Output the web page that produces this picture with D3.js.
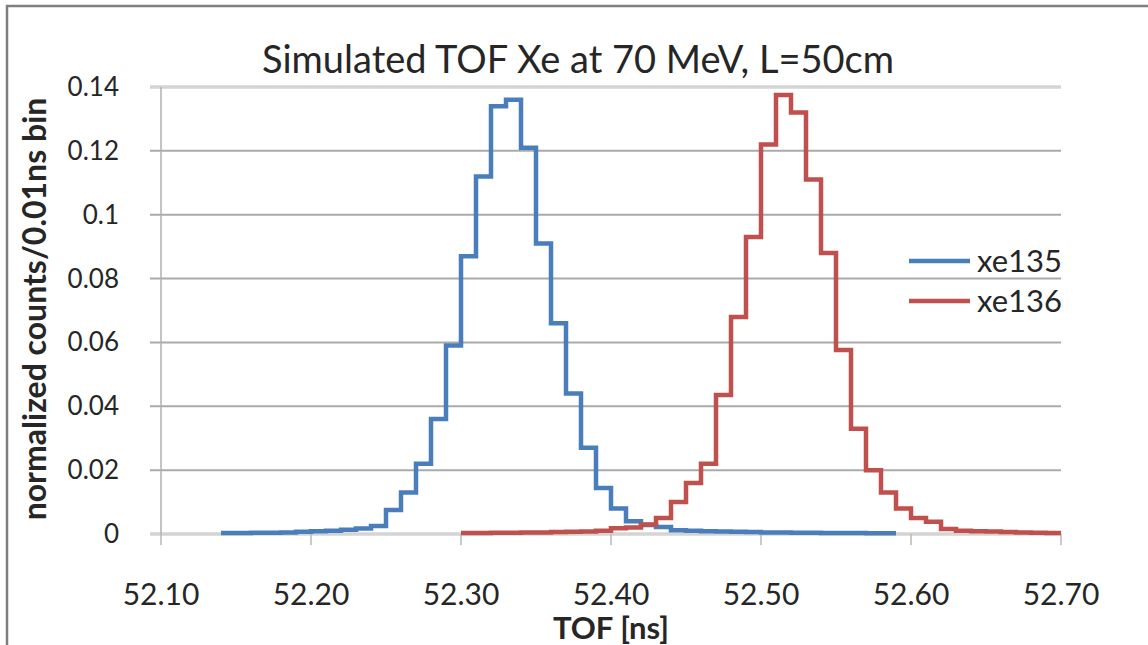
<!DOCTYPE html>
<html><head><meta charset="utf-8">
<script src="https://cdn.jsdelivr.net/npm/d3@7"></script>
<style>
html,body{margin:0;padding:0;background:#fff;}
svg text{font-family:Lato,"Open Sans",sans-serif;fill:#262626;}
</style></head>
<body>
<svg id="chart" width="1148" height="645"></svg>
<script>
const title = "Simulated TOF Xe at 70 MeV, L=50cm";
const xLabel = "TOF [ns]";
const yLabel = "normalized counts/0.01ns bin";
const xTicks = [52.10, 52.20, 52.30, 52.40, 52.50, 52.60, 52.70];
const xTickLabels = ["52.10","52.20","52.30","52.40","52.50","52.60","52.70"];
const yTicks = [0, 0.02, 0.04, 0.06, 0.08, 0.10, 0.12, 0.14];
const yTickLabels = ["0","0.02","0.04","0.06","0.08","0.1","0.12","0.14"];
const seriesNames = ["xe135", "xe136"];
const binWidth = 0.01;

// xe135: bins starting at 52.14
const xe135Start = 52.14;
const xe135 = [0.0003,0.0003,0.0004,0.0004,0.0005,0.0007,0.0009,0.001,0.0013,0.0017,
  0.0025,0.0075,0.013,0.022,0.036,0.059,0.087,0.112,0.134,0.136,
  0.121,0.091,0.066,0.044,0.027,0.0144,0.008,0.004,0.0028,0.0022,
  0.0012,0.001,0.0009,0.0008,0.0007,0.0006,0.0005,0.0005,0.0004,0.0004,
  0.0003,0.0003,0.0003,0.0002,0.0002];
// xe136: bins starting at 52.30
const xe136Start = 52.30;
const xe136 = [0.0003,0.0003,0.0004,0.0004,0.0005,0.0005,0.0006,0.0007,0.0008,0.001,
  0.0018,0.002,0.003,0.005,0.010,0.016,0.022,0.0435,0.068,0.093,
  0.122,0.1375,0.132,0.111,0.088,0.0576,0.033,0.020,0.013,0.008,
  0.005,0.0038,0.0016,0.001,0.0009,0.0008,0.0006,0.0005,0.0004,0.0003];

const colors = ["#4A7EBB", "#C0504D"];

const svg = d3.select("#chart");
const x = d3.scaleLinear().domain([52.10, 52.70]).range([161, 1061]);
const y = d3.scaleLinear().domain([0, 0.14]).range([534, 87]);

// outer border
svg.append("path").attr("d","M7,700 L7,6 L1160,6").attr("fill","none")
  .attr("stroke","#7f7f7f").attr("stroke-width",2.5);

// gridlines
svg.append("g").selectAll("line").data(yTicks).join("line")
  .attr("x1", 150).attr("x2", 1061)
  .attr("y1", d => y(d)).attr("y2", d => y(d))
  .attr("stroke", (d,i) => (i===0 || i===yTicks.length-1) ? "#d4d4d4" : "#aaaaaa")
  .attr("stroke-width", (d,i) => (i===0 || i===yTicks.length-1) ? 3.5 : 2);

// y axis line
svg.append("line").attr("x1",161).attr("x2",161).attr("y1",y(0.14)).attr("y2",y(0))
  .attr("stroke","#b0b0b0").attr("stroke-width",1.5);

// x ticks
svg.append("g").selectAll("line").data(xTicks).join("line")
  .attr("x1", d => x(d)).attr("x2", d => x(d))
  .attr("y1", y(0)).attr("y2", y(0)+11)
  .attr("stroke","#b8b8b8").attr("stroke-width",1.5);

// y tick labels
svg.append("g").selectAll("text").data(yTicks).join("text")
  .attr("x", 119).attr("y", d => y(d)+9)
  .attr("text-anchor","end").attr("font-size",26)
  .text((d,i) => yTickLabels[i]);

// x tick labels
svg.append("g").selectAll("text").data(xTicks).join("text")
  .attr("x", d => x(d)).attr("y", 605)
  .attr("text-anchor","middle").attr("font-size",30)
  .text((d,i) => xTickLabels[i]);

// titles
svg.append("text").attr("x", 578).attr("y", 73).attr("text-anchor","middle")
  .attr("font-size",38).text(title);
svg.append("text").attr("x", 611).attr("y", 639).attr("text-anchor","middle")
  .attr("font-size",31).attr("font-weight","bold").text(xLabel);
svg.append("text").attr("transform","translate(46,309) rotate(-90)")
  .attr("text-anchor","middle").attr("font-size",32).attr("font-weight","bold").text(yLabel);

// histograms
function stepData(start, vals){
  const pts = vals.map((v,i) => [start + i*binWidth, v]);
  pts.push([start + vals.length*binWidth, vals[vals.length-1]]);
  return pts;
}
const line = d3.line().x(d => x(d[0])).y(d => y(d[1])).curve(d3.curveStepAfter);
[[xe135Start, xe135], [xe136Start, xe136]].forEach((s, i) => {
  svg.append("path").datum(stepData(s[0], s[1]))
    .attr("d", line).attr("fill","none")
    .attr("stroke", colors[i]).attr("stroke-width",4.5)
    .attr("stroke-linejoin","miter");
});

// legend
const lg = svg.append("g");
seriesNames.forEach((n,i) => {
  const yy = 261 + i*40;
  lg.append("line").attr("x1",909).attr("x2",970).attr("y1",yy).attr("y2",yy)
    .attr("stroke", colors[i]).attr("stroke-width",4.5);
  lg.append("text").attr("x",977).attr("y",yy+11).attr("font-size",31).text(n);
});
</script>
</body></html>
